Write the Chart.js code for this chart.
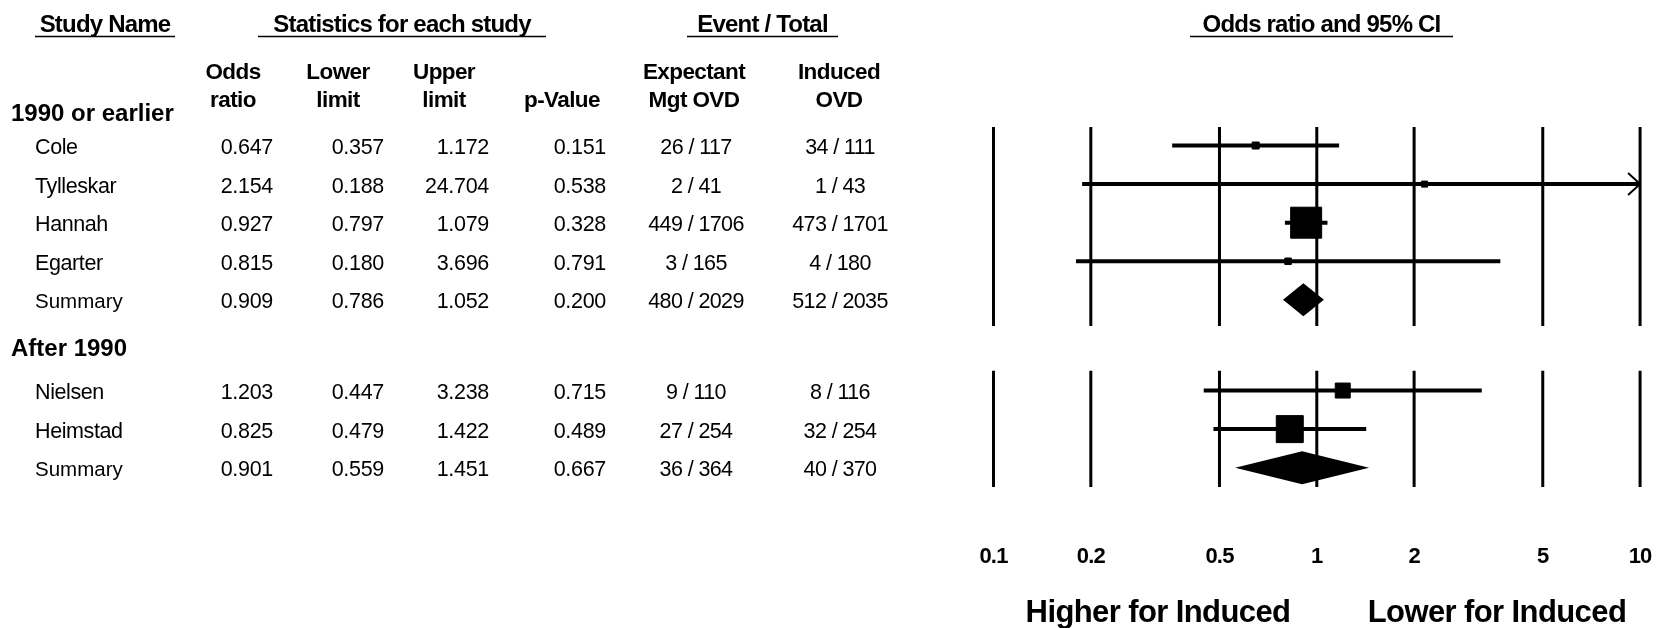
<!DOCTYPE html>
<html>
<head>
<meta charset="utf-8">
<style>
  html, body { margin: 0; padding: 0; background: #fff; }
  canvas { display: block; }
</style>
</head>
<body>
<canvas id="forestChart" width="1663" height="628"></canvas>
<script src="https://cdn.jsdelivr.net/npm/chart.js@4.4.1/dist/chart.umd.min.js"></script>
<script>
// --- data ---
const studyNames = ["Cole", "Tylleskar", "Hannah", "Egarter", "Summary", "Nielsen", "Heimstad", "Summary"];
const studyGroup = [0, 0, 0, 0, 0, 1, 1, 1];
const isSummary = [false, false, false, false, true, false, false, true];
const groupLabels = ["1990 or earlier", "After 1990"];
const oddsRatio = [0.647, 2.154, 0.927, 0.815, 0.909, 1.203, 0.825, 0.901];
const lowerLimit = [0.357, 0.188, 0.797, 0.180, 0.786, 0.447, 0.479, 0.559];
const upperLimit = [1.172, 24.704, 1.079, 3.696, 1.052, 3.238, 1.422, 1.451];
const pValue = [0.151, 0.538, 0.328, 0.791, 0.200, 0.715, 0.489, 0.667];
const expEvents = [26, 2, 449, 3, 480, 9, 27, 36];
const expTotal = [117, 41, 1706, 165, 2029, 110, 254, 364];
const indEvents = [34, 1, 473, 4, 512, 8, 32, 40];
const indTotal = [111, 43, 1701, 180, 2035, 116, 254, 370];
const xTicks = [0.1, 0.2, 0.5, 1, 2, 5, 10];
const xTickLabels = ["0.1", "0.2", "0.5", "1", "2", "5", "10"];

// --- layout / style (not data) ---
const X_MIN = 0.1, X_MAX = 10;
const GROUP_GAP = 1.35;                 // extra row space before each new group
const GROUP_HEADER_OFFSET = [-0.88, -1.12];
const GROUP_LINE_EXT = [[0.48, 0.68], [0.51, 0.5]];
const BOX_SIDE = [7, 6, 31, 6.5, 0, 15, 27, 0];
const DIAMOND_HALF = 16.5;
const TEXT_DY = 2.5;                    // nudge so glyphs sit centred on the row
const FONT = '"Liberation Sans", Arial, Helvetica, sans-serif';

function rowY(i) { return i + studyGroup[i] * GROUP_GAP; }

// vertical reference lines, one segment per group
const gridData = [];
[0, 1].forEach(function (g) {
  const rows = studyNames.map(function (_, i) { return i; }).filter(function (i) { return studyGroup[i] === g; });
  const top = rowY(rows[0]) - GROUP_LINE_EXT[g][0];
  const bottom = rowY(rows[rows.length - 1]) + GROUP_LINE_EXT[g][1];
  xTicks.forEach(function (t) {
    gridData.push({ x: t, y: top }, { x: t, y: bottom }, { x: t, y: null });
  });
});

// confidence interval segments for single studies
const ciData = [];
const boxData = [];
const boxRadius = [];
studyNames.forEach(function (name, i) {
  if (isSummary[i]) return;
  ciData.push(
    { x: Math.max(lowerLimit[i], X_MIN), y: rowY(i) },
    { x: Math.min(upperLimit[i], X_MAX), y: rowY(i) },
    { x: oddsRatio[i], y: null }
  );
  boxData.push({ x: oddsRatio[i], y: rowY(i) });
  boxRadius.push(BOX_SIDE[i] * Math.SQRT1_2);
});

function textAt(ctx, str, x, y, font, align, spacing) {
  ctx.font = font;
  ctx.textAlign = align;
  ctx.textBaseline = "middle";
  ctx.letterSpacing = spacing || "0px";
  ctx.fillText(str, x, y);
}

const forestPlugin = {
  id: "forestExtras",
  afterDatasetsDraw: function (chart) {
    const ctx = chart.ctx;
    const xs = chart.scales.x;
    const ys = chart.scales.y;
    ctx.save();
    ctx.fillStyle = "#000";
    ctx.strokeStyle = "#000";

    // summary diamonds
    studyNames.forEach(function (name, i) {
      if (!isSummary[i]) return;
      const py = ys.getPixelForValue(rowY(i));
      const lo = xs.getPixelForValue(lowerLimit[i]);
      const mid = xs.getPixelForValue(oddsRatio[i]);
      const hi = xs.getPixelForValue(upperLimit[i]);
      ctx.beginPath();
      ctx.moveTo(lo, py);
      ctx.lineTo(mid, py - DIAMOND_HALF);
      ctx.lineTo(hi, py);
      ctx.lineTo(mid, py + DIAMOND_HALF);
      ctx.closePath();
      ctx.fill();
    });

    // arrows for intervals running off the axis
    studyNames.forEach(function (name, i) {
      if (isSummary[i] || upperLimit[i] <= X_MAX) return;
      const px = xs.getPixelForValue(X_MAX);
      const py = ys.getPixelForValue(rowY(i));
      ctx.lineWidth = 2;
      ctx.beginPath();
      ctx.moveTo(px - 12, py - 11);
      ctx.lineTo(px, py);
      ctx.lineTo(px - 12, py + 11);
      ctx.stroke();
    });

    // tick labels
    const boldTick = "bold 22px " + FONT;
    xTicks.forEach(function (t, k) {
      textAt(ctx, xTickLabels[k], xs.getPixelForValue(t), 557, boldTick, "center", "-0.8px");
    });

    // direction labels
    const bigBold = "bold 31px " + FONT;
    textAt(ctx, "Higher for Induced", 1158, 613, bigBold, "center", "-0.6px");
    textAt(ctx, "Lower for Induced", 1497, 613, bigBold, "center", "-0.6px");

    // headings with underline
    const headBold = "bold 24px " + FONT;
    const headings = [
      { text: "Study Name", x0: 35, x1: 175 },
      { text: "Statistics for each study", x0: 258, x1: 546 },
      { text: "Event / Total", x0: 687, x1: 838 },
      { text: "Odds ratio and 95% CI", x0: 1190, x1: 1453 }
    ];
    headings.forEach(function (h) {
      textAt(ctx, h.text, (h.x0 + h.x1) / 2, 25, headBold, "center", "-0.8px");
      ctx.lineWidth = 1.5;
      ctx.beginPath();
      ctx.moveTo(h.x0, 36.5);
      ctx.lineTo(h.x1, 36.5);
      ctx.stroke();
    });

    // column headers
    const colBold = "bold 22.5px " + FONT;
    const colHeads = [
      { x: 233, lines: ["Odds", "ratio"] },
      { x: 338, lines: ["Lower", "limit"] },
      { x: 444, lines: ["Upper", "limit"] },
      { x: 562, lines: ["", "p-Value"] },
      { x: 694, lines: ["Expectant", "Mgt OVD"] },
      { x: 839, lines: ["Induced", "OVD"] }
    ];
    colHeads.forEach(function (c) {
      textAt(ctx, c.lines[0], c.x, 73, colBold, "center", "-0.6px");
      textAt(ctx, c.lines[1], c.x, 101, colBold, "center", "-0.6px");
    });

    // group labels
    const groupBold = "bold 24px " + FONT;
    [0, 1].forEach(function (g) {
      const first = studyGroup.indexOf(g);
      textAt(ctx, groupLabels[g], 11, ys.getPixelForValue(rowY(first) + GROUP_HEADER_OFFSET[g]) + TEXT_DY, groupBold, "left", "0px");
    });

    // table rows
    const rowFont = "21.5px " + FONT;
    const sumFont = "20.5px " + FONT;
    studyNames.forEach(function (name, i) {
      const py = ys.getPixelForValue(rowY(i)) + TEXT_DY;
      if (isSummary[i]) {
        textAt(ctx, name, 35, py, sumFont, "left", "0px");
      } else {
        textAt(ctx, name, 35, py, rowFont, "left", "-0.4px");
      }
      textAt(ctx, oddsRatio[i].toFixed(3), 273, py, rowFont, "right", "-0.3px");
      textAt(ctx, lowerLimit[i].toFixed(3), 384, py, rowFont, "right", "-0.3px");
      textAt(ctx, upperLimit[i].toFixed(3), 489, py, rowFont, "right", "-0.3px");
      textAt(ctx, pValue[i].toFixed(3), 606, py, rowFont, "right", "-0.3px");
      textAt(ctx, expEvents[i] + " / " + expTotal[i], 696, py, rowFont, "center", "-0.6px");
      textAt(ctx, indEvents[i] + " / " + indTotal[i], 840, py, rowFont, "center", "-0.6px");
    });

    ctx.restore();
  }
};

new Chart(document.getElementById("forestChart"), {
  type: "scatter",
  data: {
    datasets: [
      {
        label: "reference lines",
        data: gridData,
        showLine: true,
        spanGaps: false,
        borderColor: "#000",
        borderWidth: 3,
        pointRadius: 0,
        clip: false,
        order: 3
      },
      {
        label: "95% CI",
        data: ciData,
        showLine: true,
        spanGaps: false,
        borderColor: "#000",
        borderWidth: 4,
        borderCapStyle: "butt",
        pointRadius: 0,
        clip: false,
        order: 2
      },
      {
        label: "Odds ratio",
        data: boxData,
        pointStyle: "rect",
        pointRadius: boxRadius,
        pointHoverRadius: boxRadius,
        pointBackgroundColor: "#000",
        pointBorderColor: "#000",
        pointBorderWidth: 1,
        clip: false,
        order: 1
      }
    ]
  },
  options: {
    responsive: false,
    animation: false,
    devicePixelRatio: 1,
    layout: { padding: { left: 993.5, right: 20.3, top: 127, bottom: 141 } },
    plugins: {
      legend: { display: false },
      tooltip: { enabled: false }
    },
    scales: {
      x: { type: "logarithmic", min: X_MIN, max: X_MAX, display: false },
      y: { type: "linear", min: -0.48, max: 8.85, reverse: true, display: false }
    }
  },
  plugins: [forestPlugin]
});
</script>
</body>
</html>
